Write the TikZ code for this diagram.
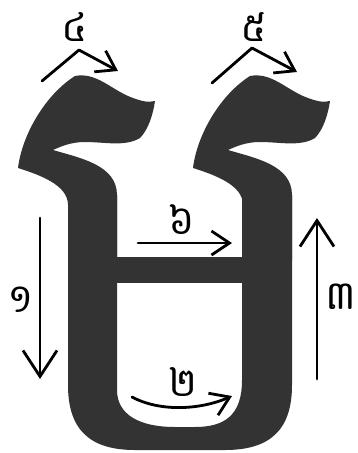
\documentclass[tikz,border=0pt]{standalone}
\usepackage{fontspec}
\newfontfamily\khmerfont[Script=Khmer]{Battambang}
\usetikzlibrary{arrows.meta}

\begin{document}
\begin{tikzpicture}[x=1pt,y=-1pt,line cap=round,line join=round,
    glyph/.style={fill=black!80,draw=none},
    shortstroke/.style={line width=2.8pt,-{Straight Barb[length=18pt,width=24pt]}},
    longstroke/.style={line width=2.8pt,-{Straight Barb[length=26pt,width=34pt]}},
    num/.style={font=\khmerfont\fontsize{40}{40}\selectfont,inner sep=0pt}]
  \useasboundingbox (0,0) rectangle (358,453);
  \fill[white] (0,0) rectangle (358,453);
  % 上：两个弯钩
  \foreach \dx in {0,175} {
    \fill[glyph,xshift=\dx] (75,76) .. controls (95,72) and (110,88) .. (128,96)
      .. controls (140,101) and (148,103) .. (155,101)
      .. controls (153,115) and (148,130) .. (140,138)
      .. controls (125,147) and (105,142) .. (85,142)
      .. controls (70,142) and (60,147) .. (53,150)
      .. controls (80,158) and (117,165) .. (117,195) -- (117,260) -- (68,260) -- (68,205)
      .. controls (68,185) and (40,175) .. (18,168)
      .. controls (22,135) and (45,95) .. (75,76) -- cycle;
  }
  % 下：U 形与横画
  \fill[glyph] (68,195) -- (68,385) .. controls (68,430) and (90,450) .. (135,450)
    -- (225,450) .. controls (270,450) and (292,430) .. (292,385) -- (292,195)
    -- (242,195) -- (242,380) .. controls (242,415) and (225,427) .. (195,427)
    -- (175,427) .. controls (140,427) and (117,415) .. (117,390) -- (117,195) -- cycle;
  \fill[glyph] (117,257) rectangle (242,283);
  % 笔顺箭头
  \coordinate (a1) at (40,218);  \coordinate (b1) at (40,379);
  \coordinate (a2) at (132,397); \coordinate (b2) at (232,396);
  \coordinate (a3) at (317,379); \coordinate (b3) at (317,218);
  \coordinate (a4) at (42,81);   \coordinate (m4) at (79,50);  \coordinate (b4) at (118,71);
  \coordinate (a5) at (212,83);  \coordinate (m5) at (252,48); \coordinate (b5) at (297,72);
  \coordinate (a6) at (138,243); \coordinate (b6) at (232,243);
  \draw[longstroke] (a1) -- (b1);
  \draw[shortstroke] (a2) .. controls (160,412) and (200,410) .. (b2);
  \draw[longstroke] (a3) -- (b3);
  \draw[shortstroke] (a4) -- (m4) -- (b4);
  \draw[shortstroke] (a5) -- (m5) -- (b5);
  \draw[shortstroke] (a6) -- (b6);
  % 序号
  \node[num] (n1) at (21,300) {១};
  \node[num] (n2) at (183,382) {២};
  \node[num] (n3) at (341,297) {៣};
  \node[num] (n4) at (75,27) {៤};
  \node[num] (n5) at (254,27) {៥};
  \node[num] (n6) at (182,220) {៦};
\end{tikzpicture}
\end{document}
